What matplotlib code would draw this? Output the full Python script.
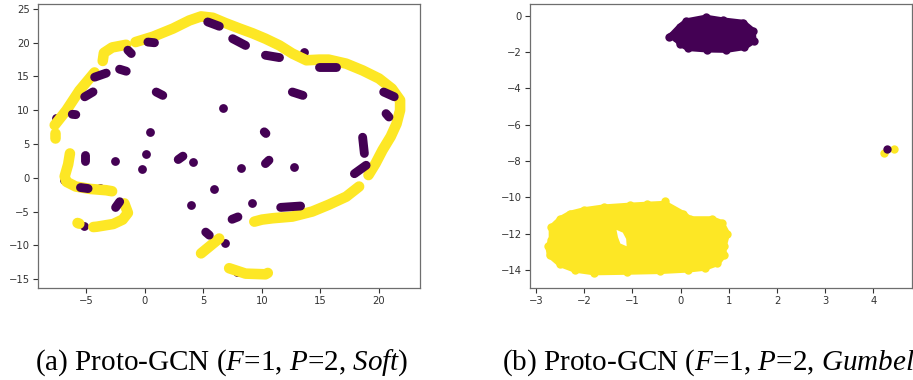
#%%
import matplotlib
matplotlib.use('Agg')
import matplotlib.pyplot as plt

#%% colours of the two labels (viridis ends)
c_purple = '#440154'
c_yellow = '#fde725'

#%% (a) Soft : yellow strands, purple dashes and dots
soft_yellow_lines = [
    [(-7.7, 7.8), (-6.7, 10.0), (-5.6, 12.9), (-4.3, 15.6)],
    [(-3.6, 17.3), (-3.5, 18.5), (-2.8, 19.3), (-1.6, 19.7)],
    [(-0.8, 20.1), (0.7, 20.9), (2.4, 22.1), (3.8, 23.3), (4.8, 23.9), (5.8, 23.7),
     (6.9, 22.9), (8.1, 22.1), (9.2, 21.4), (10.3, 20.6), (11.5, 19.6), (12.6, 18.4),
     (13.8, 17.4), (14.9, 17.5), (15.7, 17.5), (17.2, 16.9), (18.6, 15.9), (20.0, 14.7),
     (21.1, 13.2), (21.8, 11.5), (21.8, 10.0), (21.5, 8.0), (21.0, 6.1), (20.3, 4.1),
     (19.7, 2.1), (19.1, 0.4)],
    [(18.3, -1.3), (17.2, -2.8), (15.7, -4.0), (14.3, -5.0), (12.6, -5.75),
     (10.9, -6.0), (10.0, -6.2), (9.35, -6.5)],
    [(-7.7, 6.6), (-7.7, 5.9)],
    [(-6.4, 3.6), (-6.55, 2.0), (-6.85, 0.2), (-6.7, -0.6), (-5.9, -1.3),
     (-4.7, -1.65), (-3.3, -1.85), (-2.8, -2.0)],
    [(-1.75, -3.8), (-1.45, -5.2), (-1.9, -6.2), (-2.7, -6.85), (-4.1, -7.25), (-4.4, -7.3)],
    [(-5.75, -6.7), (-5.6, -6.8)],
    [(4.8, -11.2), (6.35, -9.0)],
    [(7.2, -13.4), (8.6, -14.2), (10.3, -14.3), (10.5, -14.1)],
]

soft_purple_dashes = [
    [(-5.14, 11.99), (-4.43, 12.72)], [(-4.29, 14.9), (-3.3, 15.5)],
    [(-2.16, 16.08), (-1.59, 15.78)], [(-1.45, 18.9), (-1.16, 18.4)],
    [(0.26, 20.1), (0.82, 20.0)], [(5.37, 23.08), (6.36, 22.44)],
    [(7.5, 20.6), (8.6, 19.6)], [(10.3, 18.15), (11.5, 17.8)],
    [(14.9, 16.4), (16.3, 16.4)], [(12.6, 12.7), (13.5, 12.2)],
    [(0.97, 12.7), (1.53, 12.2)], [(20.4, 12.7), (21.3, 12.0)],
    [(20.6, 9.5), (20.85, 9.0)], [(18.6, 6.0), (18.75, 3.6)],
    [(17.9, 0.6), (18.9, 1.85)], [(10.2, 6.8), (10.34, 6.56)],
    [(10.3, 2.1), (10.6, 2.6)], [(2.85, 2.7), (3.25, 3.2)],
    [(-5.14, 3.35), (-5.14, 2.5)], [(-6.2, 9.4), (-5.9, 9.35)],
    [(-5.5, -1.45), (-4.85, -1.6)], [(-2.5, -4.4), (-2.15, -3.55)],
    [(7.45, -6.15), (7.95, -5.8)], [(5.2, -8.05), (5.5, -8.5)],
    [(11.6, -4.39), (13.3, -4.19)],
]

soft_purple_x = [-7.56, 13.6, 6.65, 12.76, 8.2, 4.09, 0.11, -0.26, 0.48, -2.59,
                 -3.86, -3.0, -5.2, 3.95, 5.88, 9.12, 6.88, 7.84, -6.9, 4.5]
soft_purple_y = [8.78, 18.6, 10.26, 1.53, 1.48, 2.27, 3.5, 1.28, 6.8, 2.47,
                 -1.58, -1.97, -7.1, -4.04, -1.73, -3.8, -9.7, -13.9, -0.3, 23.8]

#%% (b) Gumbel : two dense clouds (edge points) and a tiny group
gum_purple_x = [-0.2, -0.02, 0.12, 0.52, 0.88, 1.3, 1.5, 1.52, 1.32, 0.95, 0.55, 0.15, -0.02, -0.1]
gum_purple_y = [-1.1, -0.6, -0.3, -0.1, -0.25, -0.38, -0.82, -1.4, -1.75, -1.9, -1.88, -1.8, -1.55, -1.25]

gum_yellow_x = [-2.68, -2.5, -2.3, -2.0, -1.6, -1.05, -0.7, -0.32, 0.05, 0.2, 0.65, 0.85, 0.97,
                0.9, 0.9, 0.76, 0.5, 0.15, -0.43, -1.12, -1.8, -2.2, -2.5, -2.72, -2.75, -2.68]
gum_yellow_y = [-11.65, -11.2, -10.9, -10.7, -10.55, -10.45, -10.4, -10.35, -10.9, -11.2, -11.2,
                -11.4, -12.0, -12.7, -13.2, -13.65, -13.9, -14.0, -14.08, -14.12, -14.15, -14.0,
                -13.7, -13.2, -12.7, -12.35]

gum_hole_x = [-1.33, -1.2, -1.13, -1.12, -1.25, -1.3]
gum_hole_y = [-11.8, -11.95, -12.3, -12.7, -12.55, -12.2]

gum_small_yellow_x = [4.42, 4.22, -0.32]
gum_small_yellow_y = [-7.34, -7.54, -10.22]
gum_small_purple_x = [4.28, -0.25]
gum_small_purple_y = [-7.36, -1.16]

#%%
plt.rcParams['mathtext.fontset'] = 'custom'
plt.rcParams['mathtext.rm'] = 'Liberation Serif'
plt.rcParams['mathtext.it'] = 'Liberation Serif:italic'

fig = plt.figure(figsize=(9.13, 3.80), dpi=100)

def style_axes(ax):
    for s in ax.spines.values():
        s.set_color('#6e6e6e')
        s.set_linewidth(0.9)
    ax.tick_params(labelsize=7.2, length=3.6, width=0.8, pad=2.2, colors='#333333')

#%% left
ax1 = fig.add_axes([0.0416, 0.2421, 0.4184, 0.7474])
for line in soft_yellow_lines:
    ax1.plot([p[0] for p in line], [p[1] for p in line], color=c_yellow, lw=7.6,
             solid_capstyle='round', solid_joinstyle='round')
for seg in soft_purple_dashes:
    ax1.plot([p[0] for p in seg], [p[1] for p in seg], color=c_purple, lw=6.4,
             solid_capstyle='round')
ax1.scatter(soft_purple_x, soft_purple_y, s=40, color=c_purple, lw=0)
ax1.set_xlim(-9.13, 23.5)
ax1.set_ylim(-16.33, 25.74)
ax1.set_xticks([-5, 0, 5, 10, 15, 20])
ax1.set_yticks([-15, -10, -5, 0, 5, 10, 15, 20, 25])
style_axes(ax1)

#%% right
ax2 = fig.add_axes([0.5805, 0.2421, 0.4184, 0.7474])
ax2.fill(gum_yellow_x, gum_yellow_y, color=c_yellow, lw=4, edgecolor=c_yellow)
ax2.scatter(gum_yellow_x, gum_yellow_y, s=36, color=c_yellow, lw=0)
ax2.fill(gum_hole_x, gum_hole_y, color='white', lw=0)
ax2.fill(gum_purple_x, gum_purple_y, color=c_purple, lw=4, edgecolor=c_purple)
ax2.scatter(gum_purple_x, gum_purple_y, s=36, color=c_purple, lw=0)
ax2.scatter(gum_small_yellow_x, gum_small_yellow_y, s=36, color=c_yellow, lw=0)
ax2.scatter(gum_small_purple_x, gum_small_purple_y, s=36, color=c_purple, lw=0)
ax2.set_xlim(-3.125, 4.80)
ax2.set_ylim(-15.0, 0.64)
ax2.set_xticks([-3, -2, -1, 0, 1, 2, 3, 4])
ax2.set_yticks([-14, -12, -10, -8, -6, -4, -2, 0])
style_axes(ax2)

#%% captions (the second one runs off the right edge in the source image)
fig.text(0.0383, 0.026, r'(a) Proto-GCN ($\mathit{F}$=1, $\mathit{P}$=2, $\mathit{Soft}$)',
         family='Liberation Serif', fontsize=21, va='baseline')
fig.text(0.5498, 0.026, r'(b) Proto-GCN ($\mathit{F}$=1, $\mathit{P}$=2, $\mathit{Gumbel}$',
         family='Liberation Serif', fontsize=21, va='baseline')

plt.savefig('out.png', dpi=100)
